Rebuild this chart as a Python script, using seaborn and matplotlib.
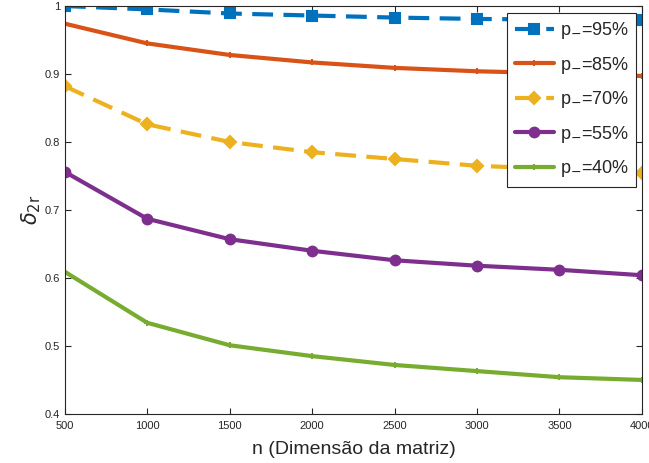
import numpy as np
import pandas as pd
import matplotlib
matplotlib.use('Agg')
import matplotlib.pyplot as plt
import seaborn as sns

# Data
n_values = [500, 1000, 1500, 2000, 2500, 3000, 3500, 4000]
p95 = [1.000, 0.995, 0.989, 0.986, 0.983, 0.981, 0.980, 0.979]
p85 = [0.974, 0.945, 0.928, 0.917, 0.909, 0.904, 0.901, 0.897]
p70 = [0.882, 0.826, 0.800, 0.785, 0.775, 0.765, 0.760, 0.754]
p55 = [0.756, 0.687, 0.657, 0.640, 0.626, 0.618, 0.612, 0.604]
p40 = [0.609, 0.534, 0.501, 0.485, 0.472, 0.463, 0.454, 0.450]
labels = ['95%', '85%', '70%', '55%', '40%']

series = {'95%': p95, '85%': p85, '70%': p70, '55%': p55, '40%': p40}
rows = []
for lab in labels:
    for n, v in zip(n_values, series[lab]):
        rows.append({'n': n, 'delta': v, 'p': lab})
df = pd.DataFrame(rows)

# MATLAB default colours / markers
styles = {
    '95%': dict(color='#0072BD', marker='s', ls='--', ms=6.5),
    '85%': dict(color='#D95319', marker='+', ls='-', ms=5),
    '70%': dict(color='#EDB120', marker='D', ls='--', ms=6.5),
    '55%': dict(color='#7E2F8E', marker='o', ls='-', ms=7),
    '40%': dict(color='#77AC30', marker='+', ls='-', ms=5),
}

sns.set_style('ticks')
plt.rcParams['font.family'] = ['Liberation Sans', 'DejaVu Sans']
plt.rcParams['mathtext.fontset'] = 'dejavusans'

fig = plt.figure(figsize=(6.49, 4.63), dpi=100)
ax = fig.add_axes([0.100, 0.106, 0.889, 0.881])

for lab in labels:
    st = styles[lab]
    sub = df[df['p'] == lab]
    sns.lineplot(data=sub, x='n', y='delta', ax=ax, color=st['color'],
                 marker=st['marker'], markersize=st['ms'], linestyle=st['ls'],
                 linewidth=3, markeredgecolor=st['color'], markeredgewidth=1.5,
                 dashes=False, label=r'p$_{-}$=' + lab)
    ax.lines[-1].set_linestyle(st['ls'])
    if st['ls'] == '--':
        ax.lines[-1].set_dashes([5, 2.5])

ax.set_xlim(500, 4000)
ax.set_ylim(0.4, 1.0)
ax.set_xticks(n_values)
ax.set_yticks([0.4, 0.5, 0.6, 0.7, 0.8, 0.9, 1.0])
ax.set_yticklabels(['0.4', '0.5', '0.6', '0.7', '0.8', '0.9', '1'])
ax.tick_params(direction='in', top=True, right=True, labelsize=8,
               colors='#262626', labelcolor='#262626', length=4, width=0.8)
ax.tick_params(axis='x', pad=5)
for sp in ax.spines.values():
    sp.set_color('#262626')
    sp.set_linewidth(0.8)

ax.set_xlabel('n (Dimensão da matriz)', fontsize=14, color='#262626', labelpad=7)
ax.set_ylabel(r'$\delta_{2\mathrm{r}}$', fontsize=15, color='#262626', labelpad=1)

leg = ax.legend(loc='upper right', bbox_to_anchor=(0.99, 0.983), borderaxespad=0,
                fontsize=13, frameon=True, fancybox=False, framealpha=1,
                edgecolor='#262626', handlelength=2.2, labelspacing=0.75,
                handletextpad=0.3, borderpad=0.4)
leg.get_frame().set_linewidth(0.8)

fig.savefig('out.png', dpi=100)
